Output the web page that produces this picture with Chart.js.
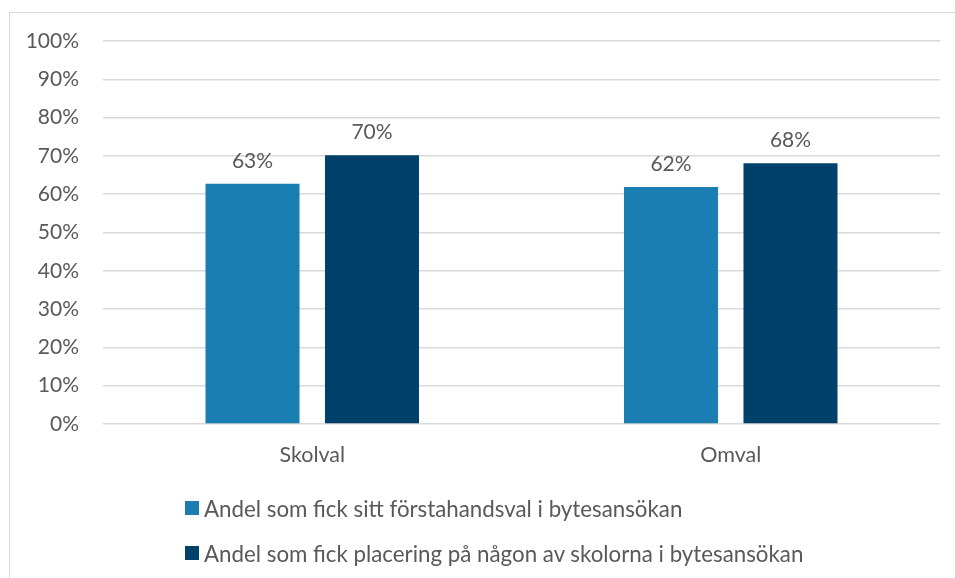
<!DOCTYPE html>
<html>
<head>
<meta charset="utf-8">
<script src="https://cdn.jsdelivr.net/npm/chart.js@4.4.1/dist/chart.umd.min.js"></script>
<style>
  html, body { margin: 0; padding: 0; background: #fff; overflow: hidden; }
  #wrap { position: relative; width: 955px; height: 578px; }
  #frame { position: absolute; left: 9px; top: 12px; width: 980px; height: 620px; border: 1px solid #d9d9d9; box-sizing: border-box; }
  canvas { position: absolute; left: 0; top: 0; }
  #legend { position: absolute; left: 185px; top: 496px; font-family: Lato, sans-serif; font-size: 22.3px; color: #595959; }
  .item { display: flex; align-items: center; height: 24px; margin-bottom: 21px; }
  .box { width: 14px; height: 14px; margin-right: 5px; }
</style>
</head>
<body>
<div id="wrap">
  <div id="frame"></div>
  <canvas id="c" width="955" height="578"></canvas>
  <div id="legend"></div>
</div>
<script>
const categories = ['Skolval', 'Omval'];
const seriesNames = [
  'Andel som fick sitt förstahandsval i bytesansökan',
  'Andel som fick placering på någon av skolorna i bytesansökan'
];
const firstChoice = [62.7, 61.9];
const anySchool = [70.2, 68.1];
const colors = ['#1a7eb2', '#00416b'];

const TEXT = '#595959';
const FONT = 'Lato, sans-serif';

const valueLabels = {
  id: 'valueLabels',
  afterDatasetsDraw(chart) {
    const ctx = chart.ctx;
    ctx.save();
    ctx.font = '21px ' + FONT;
    ctx.fillStyle = TEXT;
    ctx.textAlign = 'center';
    ctx.textBaseline = 'alphabetic';
    chart.data.datasets.forEach((ds, i) => {
      chart.getDatasetMeta(i).data.forEach((bar, j) => {
        ctx.fillText(Math.round(ds.data[j]) + '%', bar.x, bar.y - 16);
      });
    });
    ctx.restore();
  }
};

const chart = new Chart(document.getElementById('c'), {
  type: 'bar',
  data: {
    labels: categories,
    datasets: [
      { label: seriesNames[0], data: firstChoice, backgroundColor: colors[0] },
      { label: seriesNames[1], data: anySchool, backgroundColor: colors[1] }
    ]
  },
  options: {
    responsive: false,
    animation: false,
    layout: { padding: { top: 41, right: 15, left: 0, bottom: 0 } },
    datasets: { bar: { categoryPercentage: 0.571, barPercentage: 0.787 } },
    plugins: {
      legend: { display: false },
      tooltip: { enabled: false }
    },
    scales: {
      x: {
        grid: { display: false },
        border: { display: false },
        ticks: { color: TEXT, font: { family: FONT, size: 21.5 }, padding: 10 },
        afterFit(scale) { scale.height = 154; }
      },
      y: {
        min: 0,
        max: 100,
        ticks: {
          stepSize: 10,
          color: TEXT,
          font: { family: FONT, size: 21 },
          padding: 24,
          callback: v => v + '%'
        },
        grid: { color: '#d9d9d9', lineWidth: 1.5, drawTicks: false },
        border: { display: false },
        afterFit(scale) { scale.width = 103; }
      }
    }
  },
  plugins: [valueLabels]
});

const legend = document.getElementById('legend');
chart.data.datasets.forEach(ds => {
  const row = document.createElement('div');
  row.className = 'item';
  const box = document.createElement('span');
  box.className = 'box';
  box.style.background = ds.backgroundColor;
  const txt = document.createElement('span');
  txt.textContent = ds.label;
  row.appendChild(box);
  row.appendChild(txt);
  legend.appendChild(row);
});
</script>
</body>
</html>
